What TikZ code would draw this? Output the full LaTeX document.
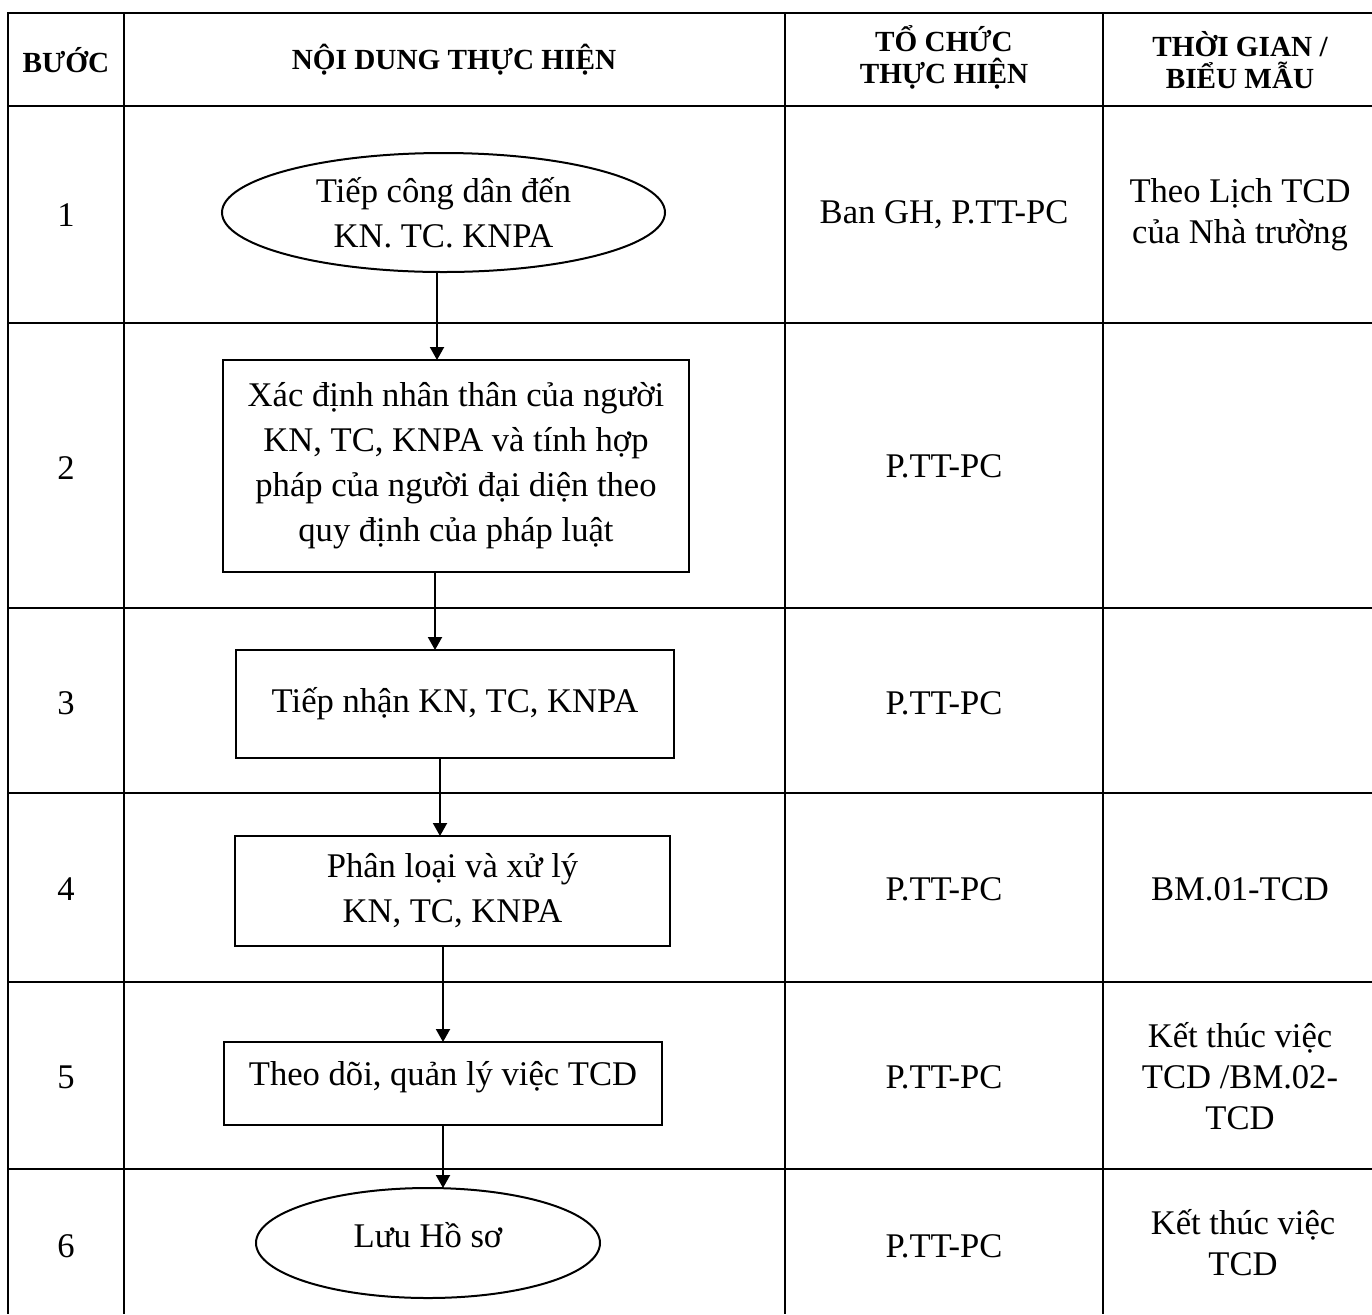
\documentclass[tikz,border=0pt]{standalone}
\usepackage{fontspec}
\setmainfont{Liberation Serif}
\usetikzlibrary{shapes.geometric,arrows.meta,calc}
\begin{document}
\begin{tikzpicture}[x=0.5pt,y=-0.5pt,
  grid/.style={line width=1pt},
  body/.style={font=\fontsize{17.3}{22.5}\selectfont, align=center, inner sep=0pt},
  cell/.style={font=\fontsize{17.3}{20.5}\selectfont, align=center, inner sep=0pt},
  head/.style={font=\bfseries\fontsize{14.6}{16}\selectfont, align=center, inner sep=0pt},
  stepbox/.style={draw, line width=1pt, rectangle, body, outer sep=0pt},
  term/.style={draw, line width=1pt, ellipse, body, outer sep=0pt},
  arr/.style={line width=1pt, -{Triangle[width=7pt,length=6.5pt]}}
]
\useasboundingbox (0,0) rectangle (1372,1314);
% table grid
\draw[grid] (1372,13) -- (8,13) -- (8,1314);
\foreach \yy in {106,323,608,793,982,1169} \draw[grid] (8,\yy) -- (1372,\yy);
\foreach \xx in {124,785,1103} \draw[grid] (\xx,13) -- (\xx,1314);
% header
\node[head] (h1) at (66,60) {BƯỚC};
\node[head] (h2) at (454,60) {NỘI DUNG THỰC HIỆN};
\node[head] (h3) at (944,57) {TỔ CHỨC\\THỰC HIỆN};
\node[head] (h4) at (1240,60) {THỜI GIAN /\\BIỂU MẪU};
% step numbers
\node[cell] (n1) at (66,215) {1};
\node[cell] (n2) at (66,468) {2};
\node[cell] (n3) at (66,703) {3};
\node[cell] (n4) at (66,889) {4};
\node[cell] (n5) at (66,1077) {5};
\node[cell] (n6) at (66,1246) {6};
% flow nodes
\node[term, minimum width=221.5pt, minimum height=59.5pt] (e1) at (443.5,212.5) {Tiếp công dân đến\\KN. TC. KNPA};
\node[stepbox, minimum width=233pt, minimum height=106pt] (b2) at (456,466) {Xác định nhân thân của người\\KN, TC, KNPA và tính hợp\\pháp của người đại diện theo\\quy định của pháp luật};
\node[stepbox, minimum width=219pt, minimum height=54pt] (b3) at (455,704) {Tiếp nhận KN, TC, KNPA};
\node[stepbox, minimum width=217.5pt, minimum height=55pt] (b4) at (452.5,891) {Phân loại và xử lý\\KN, TC, KNPA};
\node[stepbox, minimum width=219pt, minimum height=41.5pt, text depth=10pt] (b5) at (443,1083.5) {Theo dõi, quản lý việc TCD};
\node[term, minimum width=172pt, minimum height=55pt, text depth=8pt] (e6) at (428,1243) {Lưu Hồ sơ};
% connectors
\draw[arr] ([xshift=-3.25pt]e1.south) -- ([xshift=-3.25pt]e1.south |- b2.north);
\draw[arr] ([xshift=-10.5pt]b2.south) -- ([xshift=-10.5pt]b2.south |- b3.north);
\draw[arr] ([xshift=-7.5pt]b3.south) -- ([xshift=-7.5pt]b3.south |- b4.north);
\draw[arr] ([xshift=-4.75pt]b4.south) -- ([xshift=-4.75pt]b4.south |- b5.north);
\draw[arr] (b5.south) -- (b5.south |- e6.north);
% organisation column
\node[cell] (o1) at (944,215) {Ban GH, P.TT-PC};
\node[cell] (o2) at (944,466) {P.TT-PC};
\node[cell] (o3) at (944,703) {P.TT-PC};
\node[cell] (o4) at (944,889) {P.TT-PC};
\node[cell] (o5) at (944,1077) {P.TT-PC};
\node[cell] (o6) at (944,1246) {P.TT-PC};
% time / form column
\node[cell] (t1) at (1240,215) {Theo Lịch TCD\\của Nhà trường};
\node[cell] (t4) at (1240,889) {BM.01-TCD};
\node[cell] (t5) at (1240,1076) {Kết thúc việc\\TCD /BM.02-\\TCD};
\node[cell] (t6) at (1243,1243) {Kết thúc việc\\TCD};
\end{tikzpicture}
\end{document}
